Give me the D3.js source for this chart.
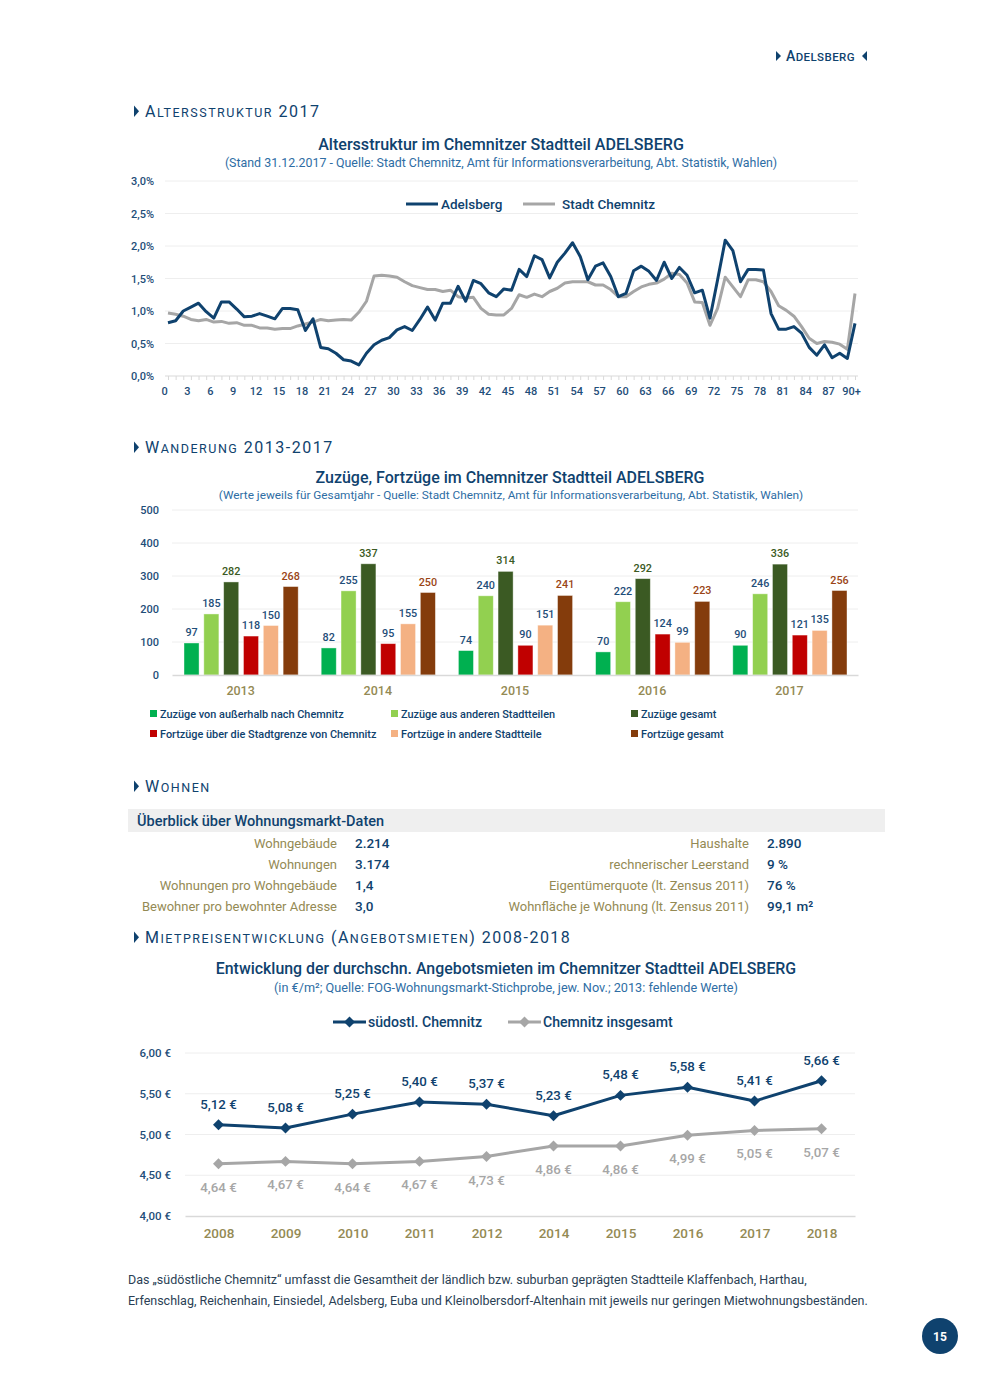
<!DOCTYPE html>
<html>
<head>
<meta charset="utf-8">
<script src="https://cdn.jsdelivr.net/npm/d3@7"></script>
<style>
  body { margin: 0; background: #fff; }
  text { font-family: Roboto, "Noto Sans", sans-serif; }
</style>
</head>
<body>
<div id="page"></div>
<script>
// ---- Altersstruktur 2017 (Anteil je Altersjahr)
const ages = d3.range(0, 91);
const ageLabels = ages.map(a => a === 90 ? "90+" : String(a));
const adelsberg = [0.82,0.85,1.00,1.06,1.12,0.99,0.89,1.14,1.14,1.03,
  0.91,0.92,0.96,0.92,0.88,1.04,1.04,1.02,0.70,0.88,
  0.44,0.42,0.35,0.25,0.23,0.17,0.35,0.48,0.55,0.59,
  0.71,0.76,0.70,0.87,1.06,0.86,1.12,1.12,1.38,1.15,
  1.47,1.42,1.28,1.22,1.34,1.32,1.64,1.53,1.85,1.79,
  1.51,1.75,1.89,2.05,1.84,1.48,1.69,1.74,1.53,1.22,
  1.27,1.62,1.69,1.61,1.47,1.75,1.50,1.67,1.55,1.28,
  1.32,0.89,1.48,2.09,1.93,1.45,1.64,1.64,1.63,0.96,
  0.72,0.72,0.76,0.66,0.44,0.32,0.48,0.28,0.35,0.27,0.81];
const stadtChemnitz = [0.97,0.95,0.92,0.87,0.85,0.87,0.83,0.84,0.81,0.82,
  0.78,0.78,0.74,0.74,0.72,0.73,0.73,0.77,0.80,0.83,
  0.87,0.85,0.86,0.87,0.86,0.98,1.15,1.54,1.55,1.54,
  1.52,1.45,1.39,1.36,1.33,1.33,1.30,1.32,1.22,1.20,
  1.21,1.04,0.95,0.94,0.94,1.04,1.25,1.21,1.26,1.22,
  1.30,1.35,1.43,1.45,1.45,1.45,1.40,1.40,1.33,1.22,
  1.22,1.30,1.37,1.41,1.43,1.49,1.58,1.56,1.43,1.14,
  1.13,0.78,1.04,1.52,1.37,1.22,1.48,1.48,1.45,1.30,
  1.08,1.01,0.92,0.76,0.58,0.50,0.53,0.52,0.49,0.41,1.27];
const pctTicks = [0, 0.5, 1, 1.5, 2, 2.5, 3];

// ---- Wanderung 2013-2017
const years = ["2013", "2014", "2015", "2016", "2017"];
const seriesNames = ["Zuzüge von außerhalb nach Chemnitz", "Zuzüge aus anderen Stadtteilen", "Zuzüge gesamt",
  "Fortzüge über die Stadtgrenze von Chemnitz", "Fortzüge in andere Stadtteile", "Fortzüge gesamt"];
const zuzAussen = [97, 82, 74, 70, 90];
const zuzStadtteile = [185, 255, 240, 222, 246];
const zuzGesamt = [282, 337, 314, 292, 336];
const fortGrenze = [118, 95, 90, 124, 121];
const fortStadtteile = [150, 155, 151, 99, 135];
const fortGesamt = [268, 250, 241, 223, 256];
const barTicks = [0, 100, 200, 300, 400, 500];

// ---- Wohnungsmarkt-Daten
const leftLabels = ["Wohngebäude", "Wohnungen", "Wohnungen pro Wohngebäude", "Bewohner pro bewohnter Adresse"];
const leftValues = ["2.214", "3.174", "1,4", "3,0"];
const rightLabels = ["Haushalte", "rechnerischer Leerstand", "Eigentümerquote (lt. Zensus 2011)", "Wohnfläche je Wohnung (lt. Zensus 2011)"];
const rightValues = ["2.890", "9 %", "76 %", "99,1 m²"];

// ---- Angebotsmieten
const rentYears = ["2008", "2009", "2010", "2011", "2012", "2014", "2015", "2016", "2017", "2018"];
const suedostChemnitz = [5.12, 5.08, 5.25, 5.40, 5.37, 5.23, 5.48, 5.58, 5.41, 5.66];
const chemnitzGesamt = [4.64, 4.67, 4.64, 4.67, 4.73, 4.86, 4.86, 4.99, 5.05, 5.07];
const rentTicks = [4, 4.5, 5, 5.5, 6];

const blue = "#0f426e";
const textBlue = "#1f4e79";
const grey = "#a6a6a6";
const khaki = "#948a54";
const gridCol = "#eeeeee";

const de = d3.formatLocale({decimal: ",", thousands: ".", grouping: [3], currency: ["", " €"]});
const fmtPct = v => de.format(".1f")(v) + "%";
const fmtEur = v => de.format(".2f")(v) + " €";

const svg = d3.select("#page").append("svg")
  .attr("width", 990).attr("height", 1389);
svg.append("rect").attr("width", 990).attr("height", 1389).attr("fill", "#fff");

// small caps heading with a little triangle in front
function heading(x, y, str, big, small, spacing) {
  svg.append("path")
    .attr("d", `M${x},${y - big * 0.72} L${x + 5},${y - big * 0.36} L${x},${y} Z`)
    .attr("fill", blue);
  const t = svg.append("text").attr("x", x + 11).attr("y", y)
    .attr("fill", blue).attr("letter-spacing", spacing);
  str.split("").forEach(ch => {
    const isSmall = ch !== ch.toUpperCase();
    t.append("tspan").attr("font-size", isSmall ? small : big).text(ch.toUpperCase());
  });
  return t;
}

// page header
const hdr = svg.append("text").attr("x", 786).attr("y", 61).attr("fill", blue)
  .attr("font-weight", 500).attr("letter-spacing", 0.4);
hdr.append("tspan").attr("font-size", 14).text("A");
hdr.append("tspan").attr("font-size", 11.5).text("DELSBERG");
svg.append("path").attr("d", "M776,51 L781,56 L776,61 Z").attr("fill", blue);
svg.append("path").attr("d", "M867,51 L862,56 L867,61 Z").attr("fill", blue);

// ================= Chart 1: Altersstruktur
heading(134, 117, "Altersstruktur 2017", 16, 12.5, 1.5);

svg.append("text").attr("x", 501).attr("y", 150).attr("text-anchor", "middle")
  .attr("font-size", 16.1).attr("font-weight", 500).attr("fill", blue)
  .text("Altersstruktur im Chemnitzer Stadtteil ADELSBERG");
svg.append("text").attr("x", 501).attr("y", 167).attr("text-anchor", "middle")
  .attr("font-size", 12.4).attr("fill", "#2e6da4")
  .text("(Stand 31.12.2017 - Quelle: Stadt Chemnitz, Amt für Informationsverarbeitung, Abt. Statistik, Wahlen)");

const xAge = d3.scalePoint().domain(ages).range([168, 855]);
const yPct = d3.scaleLinear().domain([0, 3]).range([376, 181]);

svg.append("g").selectAll("line").data(pctTicks.slice(1)).join("line")
  .attr("x1", 165).attr("x2", 858)
  .attr("y1", d => yPct(d)).attr("y2", d => yPct(d))
  .attr("stroke", gridCol).attr("stroke-width", 1);

const yAx1 = svg.append("g").attr("transform", "translate(157,0)")
  .call(d3.axisLeft(yPct).tickValues(pctTicks).tickFormat(fmtPct).tickSize(0));
yAx1.select(".domain").remove();
yAx1.selectAll("text").attr("font-size", 11).attr("font-weight", 500).attr("fill", textBlue);

const xAx1 = svg.append("g").attr("transform", "translate(0,376)")
  .call(d3.axisBottom(xAge).tickSize(4).tickFormat(a => a % 3 === 0 ? ageLabels[a] : ""));
xAx1.select(".domain").attr("stroke", "#d9d9d9").attr("d", "M165,0H858");
xAx1.selectAll(".tick line").attr("stroke", "#d9d9d9");
xAx1.selectAll("text").attr("font-size", 11).attr("font-weight", 500).attr("fill", textBlue)
  .attr("dy", "1.1em").attr("dx", -4);

const line1 = d3.line().x((d, i) => xAge(ages[i])).y(d => yPct(d));
svg.append("path").datum(stadtChemnitz).attr("d", line1)
  .attr("fill", "none").attr("stroke", grey).attr("stroke-width", 3).attr("stroke-linejoin", "round");
svg.append("path").datum(adelsberg).attr("d", line1)
  .attr("fill", "none").attr("stroke", blue).attr("stroke-width", 3).attr("stroke-linejoin", "round");

// legend chart 1
[["Adelsberg", blue, 406, 35], ["Stadt Chemnitz", grey, 523, 39]].forEach(([name, col, lx, off]) => {
  svg.append("line").attr("x1", lx).attr("x2", lx + 32).attr("y1", 204).attr("y2", 204)
    .attr("stroke", col).attr("stroke-width", 3);
  svg.append("text").attr("x", lx + off).attr("y", 208.5)
    .attr("font-size", 13.5).attr("font-weight", 500).attr("fill", blue).text(name);
});

// ================= Chart 2: Wanderung
heading(134, 453, "Wanderung 2013-2017", 16, 12.5, 1.5);

svg.append("text").attr("x", 510).attr("y", 483).attr("text-anchor", "middle")
  .attr("font-size", 16).attr("font-weight", 500).attr("fill", blue)
  .text("Zuzüge, Fortzüge im Chemnitzer Stadtteil ADELSBERG");
svg.append("text").attr("x", 511).attr("y", 499).attr("text-anchor", "middle")
  .attr("font-size", 11.8).attr("fill", "#2e6da4")
  .text("(Werte jeweils für Gesamtjahr - Quelle: Stadt Chemnitz, Amt für Informationsverarbeitung, Abt. Statistik, Wahlen)");

const barSeries = [zuzAussen, zuzStadtteile, zuzGesamt, fortGrenze, fortStadtteile, fortGesamt];
const barColors = ["#00b050", "#92d050", "#3b5a23", "#c00000", "#f4b183", "#843c0c"];
const labelColors = [textBlue, textBlue, "#3b5a23", textBlue, textBlue, "#9a4516"];

const x0 = d3.scaleBand().domain(years).range([172, 858]);
const x1 = d3.scaleBand().domain(d3.range(6)).range([12, x0.bandwidth() - 11]).paddingInner(0.24);
const yBar = d3.scaleLinear().domain([0, 500]).range([675, 510]);

svg.append("g").selectAll("line").data(barTicks.slice(1)).join("line")
  .attr("x1", 172).attr("x2", 858)
  .attr("y1", d => yBar(d)).attr("y2", d => yBar(d))
  .attr("stroke", gridCol);

const yAx2 = svg.append("g").attr("transform", "translate(162,0)")
  .call(d3.axisLeft(yBar).tickValues(barTicks).tickSize(0));
yAx2.select(".domain").remove();
yAx2.selectAll("text").attr("font-size", 11).attr("font-weight", 500).attr("fill", textBlue);

const groups = svg.append("g").selectAll("g").data(years).join("g")
  .attr("transform", d => `translate(${x0(d)},0)`);
groups.selectAll("rect").data((y, yi) => barSeries.map((s, si) => ({si, v: s[yi]}))).join("rect")
  .attr("x", d => x1(d.si)).attr("width", x1.bandwidth())
  .attr("y", d => yBar(d.v)).attr("height", d => yBar(0) - yBar(d.v))
  .attr("fill", d => barColors[d.si]).attr("stroke", "#fff").attr("stroke-opacity", 0.5).attr("stroke-width", 0.8);
groups.selectAll("text").data((y, yi) => barSeries.map((s, si) => ({si, v: s[yi]}))).join("text")
  .attr("x", d => x1(d.si) + x1.bandwidth() / 2).attr("y", d => yBar(d.v) - 7)
  .attr("text-anchor", "middle").attr("font-size", 10.8).attr("font-weight", 500)
  .attr("fill", d => labelColors[d.si]).text(d => d.v);

const xAx2 = svg.append("g").attr("transform", "translate(0,675)")
  .call(d3.axisBottom(x0).tickSize(0).tickPadding(11));
xAx2.select(".domain").attr("stroke", "#d9d9d9").attr("stroke-width", 1.5);
xAx2.selectAll("text").attr("font-size", 12.5).attr("font-weight", 500).attr("fill", khaki);

// legend chart 2
const legX = [150, 391, 631];
seriesNames.forEach((name, i) => {
  const lx = legX[i % 3], ly = i < 3 ? 714 : 734;
  svg.append("rect").attr("x", lx).attr("y", ly - 4).attr("width", 7).attr("height", 7).attr("fill", barColors[i]);
  svg.append("text").attr("x", lx + 10).attr("y", ly + 3.5).attr("font-size", 10.9).attr("font-weight", 500)
    .attr("fill", blue).text(name);
});

// ================= Wohnen table
heading(134, 792, "Wohnen", 16, 12.5, 1.5);
svg.append("rect").attr("x", 128).attr("y", 809).attr("width", 757).attr("height", 23).attr("fill", "#efefef");
svg.append("text").attr("x", 137).attr("y", 826).attr("font-size", 14.5).attr("font-weight", 500)
  .attr("fill", blue).text("Überblick über Wohnungsmarkt-Daten");

const rowY = d3.scalePoint().domain(d3.range(4)).range([848, 911]);
leftLabels.forEach((l, i) => {
  svg.append("text").attr("x", 337).attr("y", rowY(i)).attr("text-anchor", "end")
    .attr("font-size", 13).attr("fill", khaki).text(l);
  svg.append("text").attr("x", 355).attr("y", rowY(i))
    .attr("font-size", 13.5).attr("font-weight", 500).attr("fill", blue).text(leftValues[i]);
  svg.append("text").attr("x", 749).attr("y", rowY(i)).attr("text-anchor", "end")
    .attr("font-size", 13).attr("fill", khaki).text(rightLabels[i]);
  svg.append("text").attr("x", 767).attr("y", rowY(i))
    .attr("font-size", 13.5).attr("font-weight", 500).attr("fill", blue).text(rightValues[i]);
});

// ================= Chart 4: Angebotsmieten
heading(134, 943, "Mietpreisentwicklung (Angebotsmieten) 2008-2018", 16, 12.5, 1.45);

svg.append("text").attr("x", 506).attr("y", 974).attr("text-anchor", "middle")
  .attr("font-size", 15.9).attr("font-weight", 500).attr("fill", blue)
  .text("Entwicklung der durchschn. Angebotsmieten im Chemnitzer Stadtteil ADELSBERG");
svg.append("text").attr("x", 506).attr("y", 992).attr("text-anchor", "middle")
  .attr("font-size", 12.7).attr("fill", "#2e6da4")
  .text("(in €/m²; Quelle: FOG-Wohnungsmarkt-Stichprobe, jew. Nov.; 2013: fehlende Werte)");

const xR = d3.scalePoint().domain(rentYears).range([185, 855]).padding(0.5);
const yR = d3.scaleLinear().domain([4, 6]).range([1216, 1053]);

svg.append("g").selectAll("line").data(rentTicks.slice(1)).join("line")
  .attr("x1", 185).attr("x2", 855)
  .attr("y1", d => yR(d)).attr("y2", d => yR(d)).attr("stroke", gridCol);

const yAx4 = svg.append("g").attr("transform", "translate(174,0)")
  .call(d3.axisLeft(yR).tickValues(rentTicks).tickFormat(fmtEur).tickSize(0));
yAx4.select(".domain").remove();
yAx4.selectAll("text").attr("font-size", 11.5).attr("font-weight", 500).attr("fill", textBlue);

const xAx4 = svg.append("g").attr("transform", "translate(0,1216)")
  .call(d3.axisBottom(xR).tickSize(0).tickPadding(12));
xAx4.select(".domain").attr("stroke", "#d9d9d9").attr("stroke-width", 1.5);
xAx4.selectAll("text").attr("font-size", 13.5).attr("font-weight", 500).attr("fill", khaki);

const diamond = d3.symbol().type(d3.symbolSquare).size(60);
function rentSeries(vals, col, labCol, dy) {
  const ln = d3.line().x((d, i) => xR(rentYears[i])).y(d => yR(d));
  svg.append("path").datum(vals).attr("d", ln).attr("fill", "none")
    .attr("stroke", col).attr("stroke-width", 3).attr("stroke-linejoin", "round");
  svg.append("g").selectAll("path").data(vals).join("path")
    .attr("d", diamond)
    .attr("transform", (d, i) => `translate(${xR(rentYears[i])},${yR(d)}) rotate(45)`)
    .attr("fill", col);
  svg.append("g").selectAll("text").data(vals).join("text")
    .attr("x", (d, i) => xR(rentYears[i])).attr("y", d => yR(d) + dy)
    .attr("text-anchor", "middle").attr("font-size", 13.3).attr("font-weight", 500)
    .attr("fill", labCol).text(fmtEur);
}
rentSeries(chemnitzGesamt, grey, grey, 28);
rentSeries(suedostChemnitz, blue, blue, -16);

// legend chart 4
[["südostl. Chemnitz", blue, 333], ["Chemnitz insgesamt", grey, 508]].forEach(([name, col, lx]) => {
  svg.append("line").attr("x1", lx).attr("x2", lx + 33).attr("y1", 1022).attr("y2", 1022)
    .attr("stroke", col).attr("stroke-width", 3);
  svg.append("path").attr("d", diamond).attr("transform", `translate(${lx + 16.5},1022) rotate(45)`).attr("fill", col);
  svg.append("text").attr("x", lx + 35).attr("y", 1027)
    .attr("font-size", 14.1).attr("font-weight", 500).attr("fill", blue).text(name);
});

// footnote
svg.append("text").attr("x", 128).attr("y", 1284).attr("font-size", 12.5).attr("fill", "#2b3f55")
  .text("Das „südöstliche Chemnitz“ umfasst die Gesamtheit der ländlich bzw. suburban geprägten Stadtteile Klaffenbach, Harthau,");
svg.append("text").attr("x", 128).attr("y", 1305).attr("font-size", 12.5).attr("fill", "#2b3f55")
  .text("Erfenschlag, Reichenhain, Einsiedel, Adelsberg, Euba und Kleinolbersdorf-Altenhain mit jeweils nur geringen Mietwohnungsbeständen.");

// page number
svg.append("circle").attr("cx", 940).attr("cy", 1336).attr("r", 18).attr("fill", blue);
svg.append("text").attr("x", 940).attr("y", 1340.5).attr("text-anchor", "middle")
  .attr("font-size", 12).attr("font-weight", 700).attr("fill", "#fff").text("15");
</script>
</body>
</html>
